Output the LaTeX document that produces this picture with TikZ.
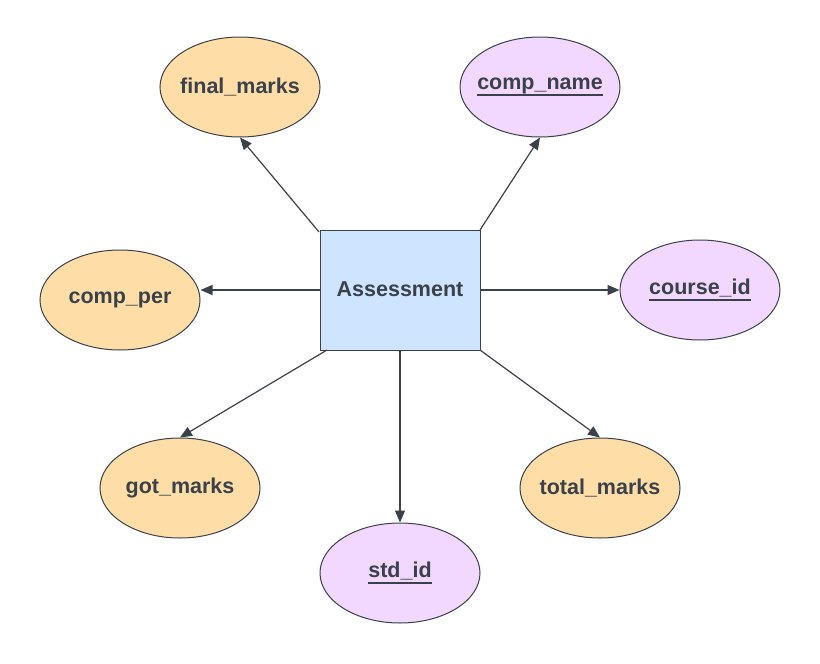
\documentclass[tikz,border=0pt]{standalone}
\usepackage{fontspec}
\setmainfont{Liberation Sans}
\usetikzlibrary{arrows.meta,shapes.geometric}
\definecolor{ink}{HTML}{3A414A}
\definecolor{boxfill}{HTML}{CFE4FF}
\definecolor{orangefill}{HTML}{FFDDA6}
\definecolor{purplefill}{HTML}{F2D7FE}
\newcommand\keyul[1]{\setbox0\hbox{#1}\rlap{\vrule width \wd0 height -5pt depth 7pt}\box0}
\newcommand\fixw[1]{\makebox[0pt]{\raisebox{2pt}{#1}}}
\tikzset{
  lbl/.style={font=\fontsize{21.5}{25}\selectfont\bfseries, text=ink},
  entity/.style={lbl, draw=ink, line width=1pt, fill=boxfill, rectangle, minimum width=160pt, minimum height=120pt, inner sep=0pt},
  attr/.style={lbl, draw=ink, line width=1pt, ellipse, minimum width=160pt, minimum height=100pt, inner sep=0pt},
  plain/.style={attr, fill=orangefill},
  keyattr/.style={attr, fill=purplefill},
  conn/.style={draw=ink, line width=1.2pt, -{Triangle[length=12pt,width=10pt]}}
}
\begin{document}
\begin{tikzpicture}[x=1pt,y=-1pt]
\useasboundingbox (0,0) rectangle (820,664);
\node[entity] (A) at (400,290) {\fixw{Assessment}};
\node[plain] (fm) at (240,87) {\fixw{final\_marks}};
\node[keyattr] (cn) at (540,87) {\fixw{\keyul{comp\_name}}};
\node[plain] (cp) at (120,300) {\fixw{comp\_per}};
\node[keyattr] (ci) at (700,290) {\fixw{\keyul{course\_id}}};
\node[plain] (gm) at (180,488) {\fixw{got\_marks}};
\node[plain] (tm) at (600,488) {\fixw{total\_marks}};
\node[keyattr] (si) at (400,573) {\fixw{\keyul{std\_id}}};
\coordinate (a1) at (319,232);
\coordinate (a2) at (480,230);
\coordinate (a3) at (320,290);
\coordinate (a4) at (480,290);
\coordinate (a5) at (327,350);
\coordinate (a6) at (480,350);
\coordinate (a7) at (400,350);
\draw[conn] (a1) -- (fm.south);
\draw[conn] (a2) -- (cn.south);
\draw[conn] (a3) -- (cp.east |- a3);
\draw[conn] (a4) -- (ci.west);
\draw[conn] (a5) -- (gm.north);
\draw[conn] (a6) -- (tm.north);
\draw[conn] (a7) -- (si.north);
\end{tikzpicture}
\end{document}
